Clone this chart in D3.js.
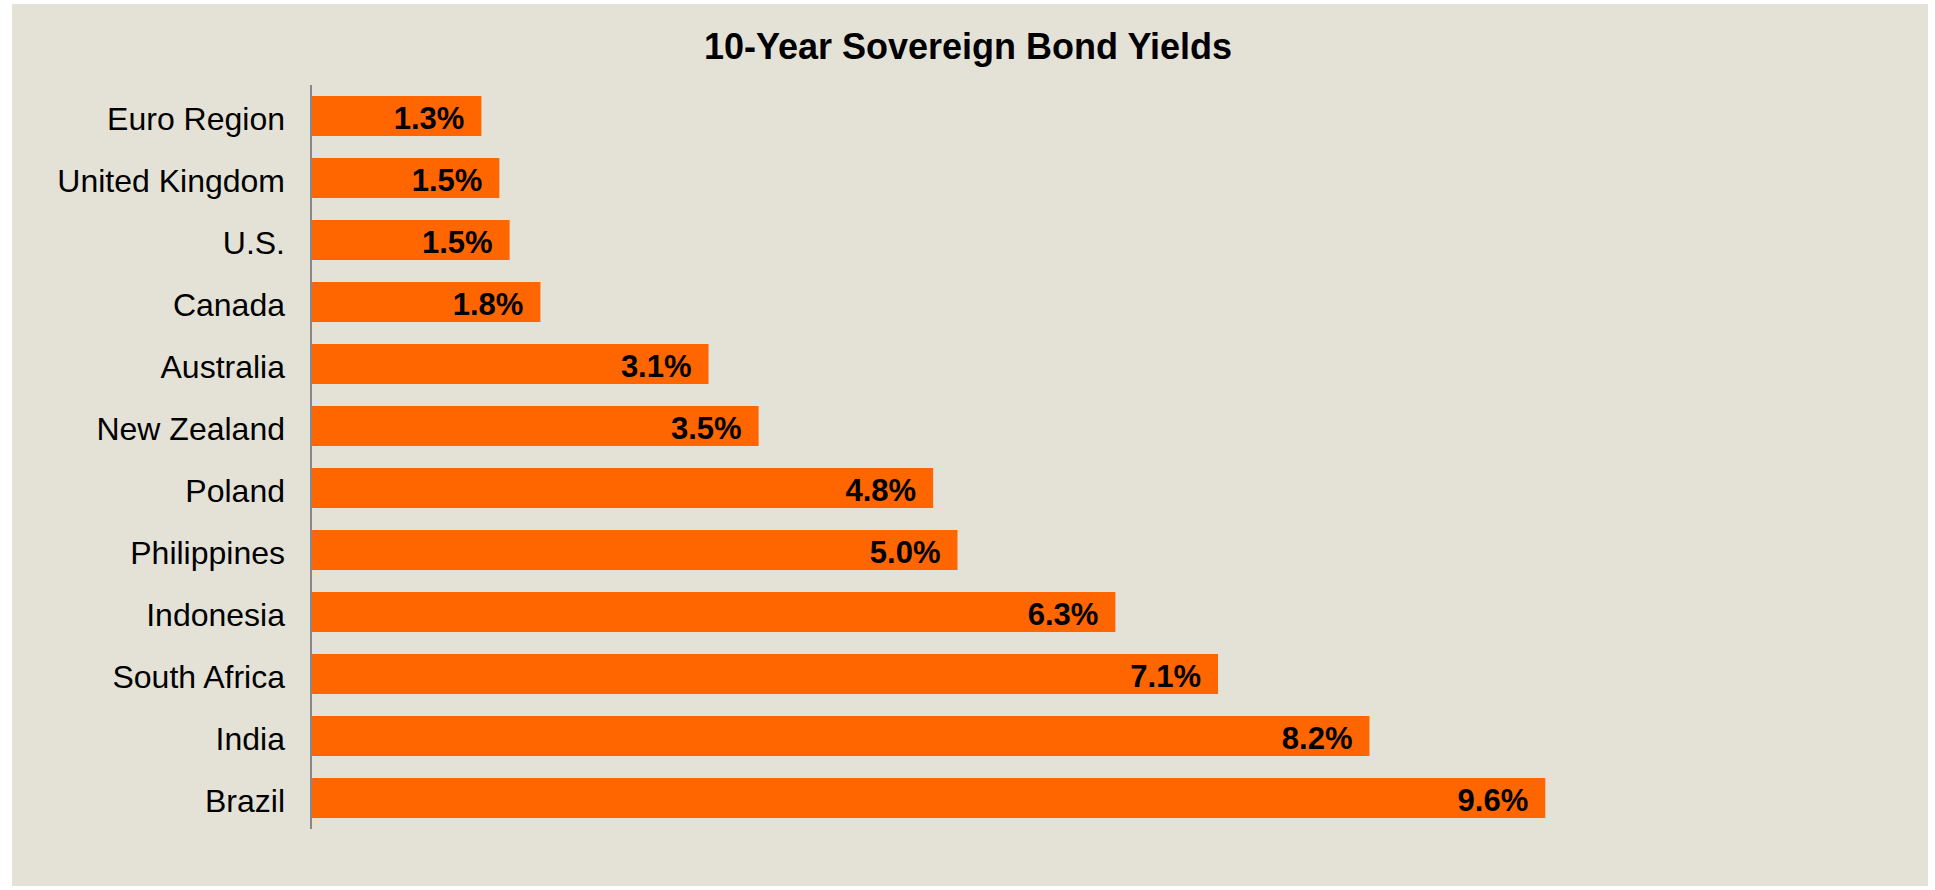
<!DOCTYPE html>
<html lang="en">

<head>
    <meta charset="UTF-8">
    <title>10-Year Sovereign Bond Yields</title>
    <script src="https://d3js.org/d3.v7.min.js"></script>
    <style>
        html, body { margin: 0; padding: 0; background: #ffffff; }
        svg { display: block; font-family: "Liberation Sans", Arial, sans-serif; }
    </style>
</head>

<body>
    <svg width="1935" height="890"></svg>

    <script>
        // chart data
        const countries = ["Euro Region", "United Kingdom", "U.S.", "Canada", "Australia", "New Zealand",
            "Poland", "Philippines", "Indonesia", "South Africa", "India", "Brazil"];
        const yields = [1.32, 1.46, 1.54, 1.78, 3.09, 3.48, 4.84, 5.03, 6.26, 7.06, 8.24, 9.61];
        const chartTitle = "10-Year Sovereign Bond Yields";

        const svg = d3.select("svg");

        // background panel
        svg.append("rect")
            .attr("x", 12).attr("y", 4)
            .attr("width", 1916).attr("height", 882)
            .attr("fill", "#e4e2d7");

        const x = d3.scaleLinear()
            .domain([0, 12])
            .range([312, 1852]);

        const y = d3.scaleBand()
            .domain(countries)
            .range([85, 829])
            .paddingInner(0.355)
            .paddingOuter(0.1775);

        // title
        svg.append("text")
            .attr("x", 968).attr("y", 59)
            .attr("text-anchor", "middle")
            .attr("font-size", "36px")
            .attr("font-weight", "bold")
            .attr("fill", "#000")
            .text(chartTitle);

        const data = countries.map((c, i) => ({ name: c, value: yields[i] }));

        // bars
        svg.append("g").attr("class", "bars")
            .selectAll("rect")
            .data(data)
            .enter()
            .append("rect")
            .attr("x", x(0))
            .attr("y", d => y(d.name))
            .attr("width", d => x(d.value) - x(0))
            .attr("height", y.bandwidth())
            .attr("fill", "#ff6600");

        // value labels inside bars
        const fmt = d3.format(".1f");
        svg.append("g").attr("class", "values")
            .selectAll("text")
            .data(data)
            .enter()
            .append("text")
            .attr("x", d => x(d.value) - 17)
            .attr("y", d => y(d.name) + y.bandwidth() / 2)
            .attr("dy", "0.42em")
            .attr("text-anchor", "end")
            .attr("font-size", "31px")
            .attr("font-weight", "bold")
            .attr("fill", "#000")
            .text(d => fmt(d.value) + "%");

        // category axis
        const yAxis = d3.axisLeft(y).tickSize(0).tickPadding(26);
        const gy = svg.append("g")
            .attr("transform", "translate(311,0)")
            .call(yAxis);
        gy.select(".domain").remove();
        gy.selectAll("text")
            .attr("dy", "0.45em")
            .attr("font-size", "32px")
            .attr("font-family", "'Liberation Sans', Arial, sans-serif")
            .attr("fill", "#000");

        svg.append("line")
            .attr("x1", 311).attr("x2", 311)
            .attr("y1", 85).attr("y2", 829)
            .attr("stroke", "#888888")
            .attr("stroke-width", 2);
    </script>
</body>

</html>
